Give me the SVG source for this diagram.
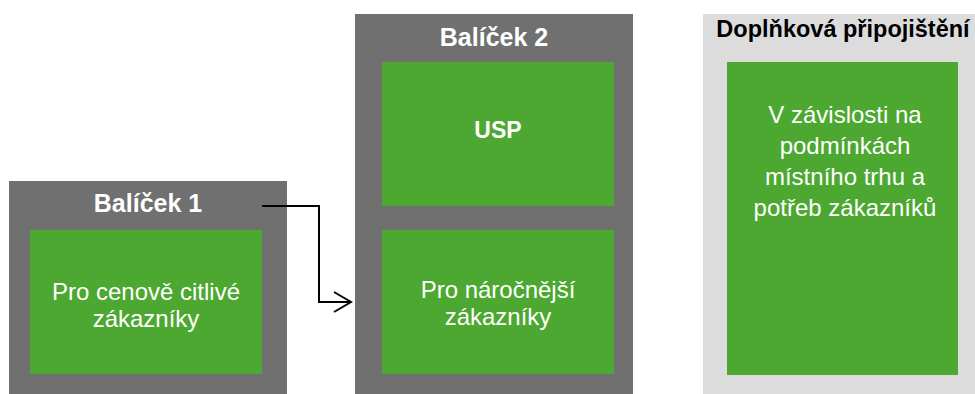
<svg xmlns="http://www.w3.org/2000/svg" width="975" height="394" viewBox="0 0 975 394">
<defs>
<style>
.dark{fill:#707070}
.light{fill:#DCDCDC}
.green{fill:#4CA830}
.t{font-family:"Liberation Sans",Arial,sans-serif;text-anchor:middle}
.title{font-size:25px;font-weight:bold;fill:#FFFFFF}
.title3{font-size:23.5px;font-weight:bold;fill:#000000}
.body{font-size:24px;fill:#FFFFFF}
.conn{fill:none;stroke:#000000;stroke-width:2}
</style>
<marker id="arr" markerWidth="20" markerHeight="24" refX="18" refY="11" orient="auto" markerUnits="userSpaceOnUse">
<path d="M1,1 L18,11 L1,21" fill="none" stroke="#000000" stroke-width="2"/>
</marker>
</defs>
<rect width="975" height="394" fill="#FFFFFF"/>
<g id="balicek1">
<rect class="dark" x="9" y="181" width="278" height="213"/>
<text class="t title" x="148" y="212">Balíček 1</text>
<rect class="green" x="30" y="230" width="232" height="144"/>
<text class="t body" x="146" y="300">Pro cenově citlivé</text>
<text class="t body" x="146" y="327">zákazníky</text>
</g>
<g id="balicek2">
<rect class="dark" x="355" y="14" width="278" height="380"/>
<text class="t title" x="494" y="46">Balíček 2</text>
<rect class="green" x="382" y="62" width="232" height="144"/>
<text class="t title" x="498" y="138" style="font-size:23px">USP</text>
<rect class="green" x="382" y="230" width="232" height="144"/>
<text class="t body" x="498" y="298">Pro náročnější</text>
<text class="t body" x="498" y="325">zákazníky</text>
</g>
<g id="doplnkova">
<rect class="light" x="703" y="14" width="272" height="380"/>
<text class="t title3" x="843" y="37">Doplňková připojištění</text>
<rect class="green" x="727" y="62" width="231" height="313"/>
<text class="t body" x="845" y="123">V závislosti na</text>
<text class="t body" x="845" y="154">podmínkách</text>
<text class="t body" x="845" y="185">místního trhu a</text>
<text class="t body" x="845" y="216">potřeb zákazníků</text>
</g>
<g id="connectors">
<path class="conn" d="M262,206 L319,206 L319,302 L351,302" marker-end="url(#arr)"/>
</g>
</svg>
